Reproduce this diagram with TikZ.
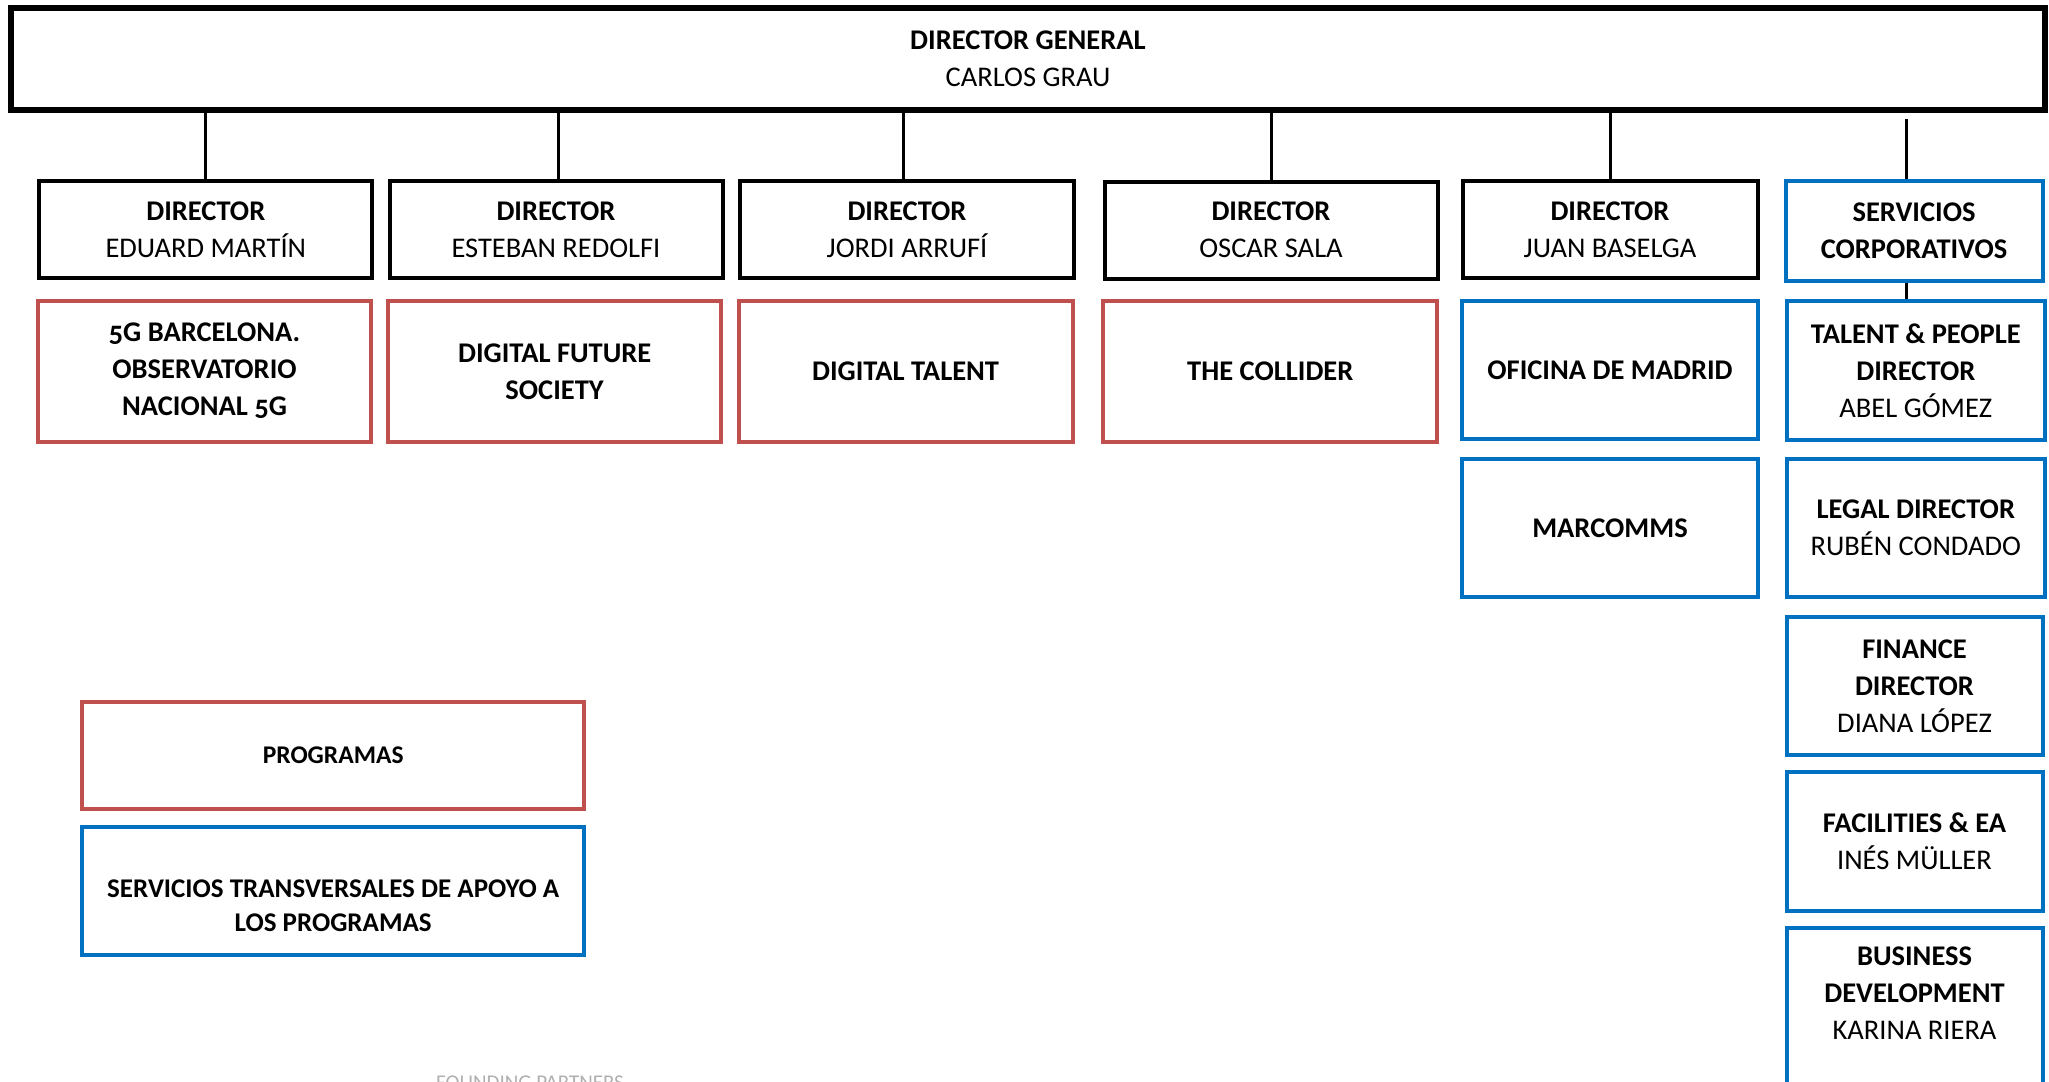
\documentclass[tikz,border=0pt]{standalone}
\usepackage{fontspec}
\setmainfont[Numbers=OldStyle]{Carlito}
\definecolor{myred}{HTML}{C0504D}
\definecolor{myblue}{HTML}{0070C0}
\definecolor{fpgray}{HTML}{B0B0B0}
\begin{document}
\begin{tikzpicture}[x=1pt,y=-1pt,
  txt/.style={align=center,font=\fontsize{28.5}{37}\selectfont,inner sep=0pt},
  dgbox/.style={draw=black,line width=5.5pt,txt},
  dirbox/.style={draw=black,line width=4pt,txt},
  redbox/.style={draw=myred,line width=4pt,txt},
  bluebox/.style={draw=myblue,line width=4pt,txt},
  legtxt/.style={align=center,inner sep=0pt,font=\fontsize{25.5}{34}\selectfont\bfseries},
  conn/.style={line width=3pt,black}
]
\useasboundingbox[fill=white] (0,0) rectangle (2049,1081);

% top
\node[dgbox,minimum width=2034,minimum height=102] (dg) at (1028,58.8)
  {\textbf{DIRECTOR GENERAL}\\CARLOS GRAU};

% directors
\node[dirbox,minimum width=333,minimum height=97] (d1) at (205.8,229.5) {\textbf{DIRECTOR}\\EDUARD MARTÍN};
\node[dirbox,minimum width=333,minimum height=97] (d2) at (556,229.5) {\textbf{DIRECTOR}\\ESTEBAN REDOLFI};
\node[dirbox,minimum width=334,minimum height=97] (d3) at (907,229.5) {\textbf{DIRECTOR}\\JORDI ARRUFÍ};
\node[dirbox,minimum width=333,minimum height=97] (d4) at (1271,230) {\textbf{DIRECTOR}\\OSCAR SALA};
\node[dirbox,minimum width=295,minimum height=97] (d5) at (1610,229.5) {\textbf{DIRECTOR}\\JUAN BASELGA};
\node[bluebox,minimum width=257,minimum height=100] (d6) at (1914,230.5) {\textbf{SERVICIOS}\\\textbf{CORPORATIVOS}};

% programs
\node[redbox,minimum width=333,minimum height=141] (p1) at (204.5,371) {\textbf{5G BARCELONA.}\\\textbf{OBSERVATORIO}\\\textbf{NACIONAL 5G}};
\node[redbox,minimum width=333,minimum height=141] (p2) at (554.7,371.5) {\textbf{DIGITAL FUTURE}\\\textbf{SOCIETY}};
\node[redbox,minimum width=334,minimum height=141] (p3) at (905.6,371) {\textbf{DIGITAL TALENT}};
\node[redbox,minimum width=334,minimum height=141] (p4) at (1270.3,371.5) {\textbf{THE COLLIDER}};

% column 5
\node[bluebox,minimum width=296,minimum height=138.5] (of) at (1610,369.8) {\textbf{OFICINA DE MADRID}};
\node[bluebox,minimum width=296,minimum height=138.5] (mc) at (1610,528) {\textbf{MARCOMMS}};

% column 6
\node[bluebox,minimum width=258.5,minimum height=139.5] (tp) at (1915.8,370.5) {\textbf{TALENT \& PEOPLE}\\\textbf{DIRECTOR}\\ABEL GÓMEZ};
\node[bluebox,minimum width=258.5,minimum height=138.5] (lg) at (1915.8,528) {\textbf{LEGAL DIRECTOR}\\RUBÉN CONDADO};
\node[bluebox,minimum width=256,minimum height=138.5] (fn) at (1914.5,686) {\textbf{FINANCE}\\\textbf{DIRECTOR}\\DIANA LÓPEZ};
\node[bluebox,minimum width=256,minimum height=138.5] (fa) at (1914.5,841.6) {\textbf{FACILITIES \& EA}\\INÉS MÜLLER};
\node[bluebox,minimum width=256,minimum height=180] (bd) at (1914.5,1017.8) {};
\node[txt] (bdt) at (1914.5,993) {\textbf{BUSINESS}\\\textbf{DEVELOPMENT}\\KARINA RIERA};

% legend
\node[redbox,legtxt,minimum width=502,minimum height=107] (lp) at (333.2,755.3) {PROGRAMAS};
\node[bluebox,minimum width=502,minimum height=128] (ls) at (333.2,891.2) {};
\node[legtxt,font=\fontsize{27}{34}\selectfont\bfseries] (lst) at (333.2,905.5) {SERVICIOS TRANSVERSALES DE APOYO A\\LOS PROGRAMAS};

% footer
\node[anchor=north,inner sep=0pt,text=fpgray,font=\fontsize{21}{24}\selectfont] (fp) at (530,1076) {FOUNDING PARTNERS};

% connectors
\draw[conn] (d1.north) -- (d1.north |- dg.south);
\draw[conn] ([xshift=2pt]d2.north) -- ([xshift=2pt]d2.north |- dg.south);
\draw[conn] ([xshift=-4pt]d3.north) -- ([xshift=-4pt]d3.north |- dg.south);
\draw[conn] (d4.north) -- (d4.north |- dg.south);
\draw[conn] (d5.north) -- (d5.north |- dg.south);
\draw[conn] ([xshift=-7.5pt]d6.north) -- ([xshift=-7.5pt,yshift=-6pt]d6.north |- dg.south);
\draw[conn] ([xshift=-7.5pt]d6.south) -- ([xshift=-9.3pt]tp.north);
\end{tikzpicture}
\end{document}
